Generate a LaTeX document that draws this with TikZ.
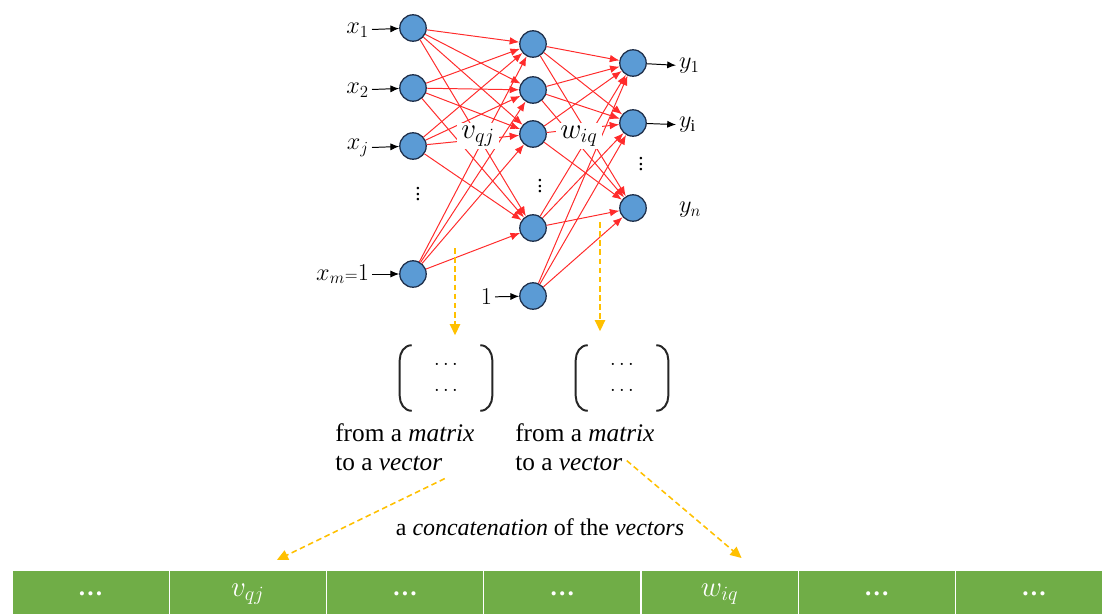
\documentclass[tikz,border=0pt]{standalone}
\usepackage{fontspec}
\setmainfont{Liberation Serif}
\usetikzlibrary{arrows.meta,calc,positioning}
\definecolor{neuronblue}{HTML}{5B9BD5}
\definecolor{rim}{HTML}{1F2F4A}
\definecolor{wire}{HTML}{FF2B2B}
\definecolor{gold}{HTML}{FFC000}
\definecolor{leaf}{HTML}{70AD47}
\definecolor{ink}{HTML}{262626}
\tikzset{
  unit/.style={circle, draw=rim, fill=neuronblue, line width=0.9pt, minimum size=6.6mm, inner sep=0pt},
  synapse/.style={-{Latex[length=2.4mm,width=1.9mm]}, draw=wire, line width=0.7pt},
  feed/.style={-{Latex[length=2.2mm,width=1.8mm]}, draw=black, line width=0.7pt},
  varlabel/.style={font=\fontsize{17}{20}\selectfont, inner sep=2pt},
  dotslabel/.style={font=\fontsize{15}{16}\selectfont, inner sep=0pt},
  weightlabel/.style={font=\fontsize{21}{24}\selectfont, fill=white, inner xsep=3pt, inner ysep=2pt},
  pick/.style={-{Triangle[length=2.8mm,width=2.6mm]}, draw=gold, line width=1.1pt, dash pattern=on 4pt off 2.5pt},
  brace/.style={draw=ink, line width=1.4pt},
  matbox/.style={minimum width=23mm, minimum height=16.25mm, inner sep=0pt, align=center, font=\fontsize{14}{19}\selectfont},
  caption/.style={font=\fontsize{18}{20.6}\selectfont, align=left, inner sep=0pt},
  cell/.style={rectangle, fill=leaf, draw=white, line width=1pt, outer sep=0pt, minimum width=39.3mm, minimum height=12mm, inner sep=0pt, text=white, font=\fontsize{18}{20}\selectfont\bfseries}
}

\begin{document}
\begin{tikzpicture}[x=0.025cm, y=-0.025cm]
  \clip (0,0) rectangle (1102,613);

  % Input layer
  \node[unit] (in1) at (413,28) {};
  \node[unit] (in2) at (413,88) {};
  \node[unit] (in3) at (413,146) {};
  \node[unit] (in4) at (413,274) {};
  \node[varlabel, anchor=east] (x1) at (372,30) {$x_1$};
  \node[varlabel, anchor=east] (x2) at (372,90) {$x_2$};
  \node[varlabel, anchor=east] (xj) at (372,148) {$x_j$};
  \node[varlabel, anchor=east] (xm) at (372,274) {$x_{m}{\scriptstyle=}1$};
  \node[dotslabel] (indots) at (418,190) {$\vdots$};

  % Hidden layer
  \node[unit] (hid1) at (533,44) {};
  \node[unit] (hid2) at (533,90) {};
  \node[unit] (hid3) at (533,134) {};
  \node[unit] (hid4) at (533,228) {};
  \node[unit] (hid5) at (533,296) {};
  \node[varlabel, anchor=east] (one) at (495,297) {$1$};
  \node[dotslabel] (hiddots) at (540,182) {$\vdots$};

  % Output layer
  \node[unit] (out1) at (633,63) {};
  \node[unit] (out2) at (633,123) {};
  \node[unit] (out3) at (633,208) {};
  \node[varlabel, anchor=west] (y1) at (676,66) {$y_1$};
  \node[varlabel, anchor=west] (yi) at (676,125) {$y_{\mathrm{i}}$};
  \node[varlabel, anchor=west] (yn) at (676,210) {$y_n$};
  \node[dotslabel] (outdots) at (641,160) {$\vdots$};

  % Weights
  \foreach \i in {1,...,4}
    \foreach \h in {1,...,4}
      \draw[synapse] (in\i) -- (hid\h);
  \foreach \h in {1,...,5}
    \foreach \o in {1,...,3}
      \draw[synapse] (hid\h) -- (out\o);
  \node[weightlabel] (v) at (478,136) {$v_{qj}$};
  \node[weightlabel] (w) at (579,136) {$w_{iq}$};

  % Inputs and outputs
  \draw[feed] (x1) -- (in1);
  \draw[feed] (x2) -- (in2);
  \draw[feed] (xj) -- (in3);
  \draw[feed] (xm) -- (in4);
  \draw[feed] (one) -- (hid5);
  \draw[feed] (out1) -- (y1);
  \draw[feed] (out2) -- (yi);

  % Weight matrices
  \node[matbox] (matL) at (446,378) {$\cdots$\\$\cdots$};
  \node[matbox] (matR) at (622,378) {$\cdots$\\$\cdots$};
  \foreach \m in {matL,matR} {
    \draw[brace] ($(\m.north west)+(12,0)$) to[out=180,in=90] ($(\m.west)+(0,-18)$) -- ($(\m.west)+(0,18)$) to[out=-90,in=180] ($(\m.south west)+(12,0)$);
    \draw[brace] ($(\m.north east)+(-12,0)$) to[out=0,in=90] ($(\m.east)+(0,-18)$) -- ($(\m.east)+(0,18)$) to[out=-90,in=0] ($(\m.south east)+(-12,0)$);
  }
  \coordinate (vfrom) at (455,248);
  \coordinate (wfrom) at (600,222);
  \draw[pick] (vfrom) -- ($(matL.north)+(9,-10)$);
  \draw[pick] (wfrom) -- ($(matR.north)+(-22,-14)$);

  \node[caption, anchor=north west] (capL) at (335,423) {from a \textit{matrix}\\to a \textit{vector}};
  \node[caption, anchor=north west] (capR) at (515,423) {from a \textit{matrix}\\to a \textit{vector}};

  % Concatenated vector
  \node[cell, anchor=north west] (c1) at (12,570) {\dots};
  \node[cell, right=0pt of c1] (c2) {\mdseries\fontsize{22}{24}\selectfont$v_{qj}$};
  \node[cell, right=0pt of c2] (c3) {\dots};
  \node[cell, right=0pt of c3] (c4) {\dots};
  \node[cell, right=0pt of c4] (c5) {\mdseries\fontsize{22}{24}\selectfont$w_{iq}$};
  \node[cell, right=0pt of c5] (c6) {\dots};
  \node[cell, right=0pt of c6] (c7) {\dots};

  \node[caption, font=\fontsize{17}{20}\selectfont] (concat) at (540,527) {a \textit{concatenation} of the \textit{vectors}};
  \draw[pick] ($(capL.south east)+(-30,8)$) -- ($(c2.north)+(29,-10)$);
  \draw[pick] ($(capR.south east)+(-28,-10)$) -- ($(c5.north)+(22,-12)$);
\end{tikzpicture}
\end{document}
